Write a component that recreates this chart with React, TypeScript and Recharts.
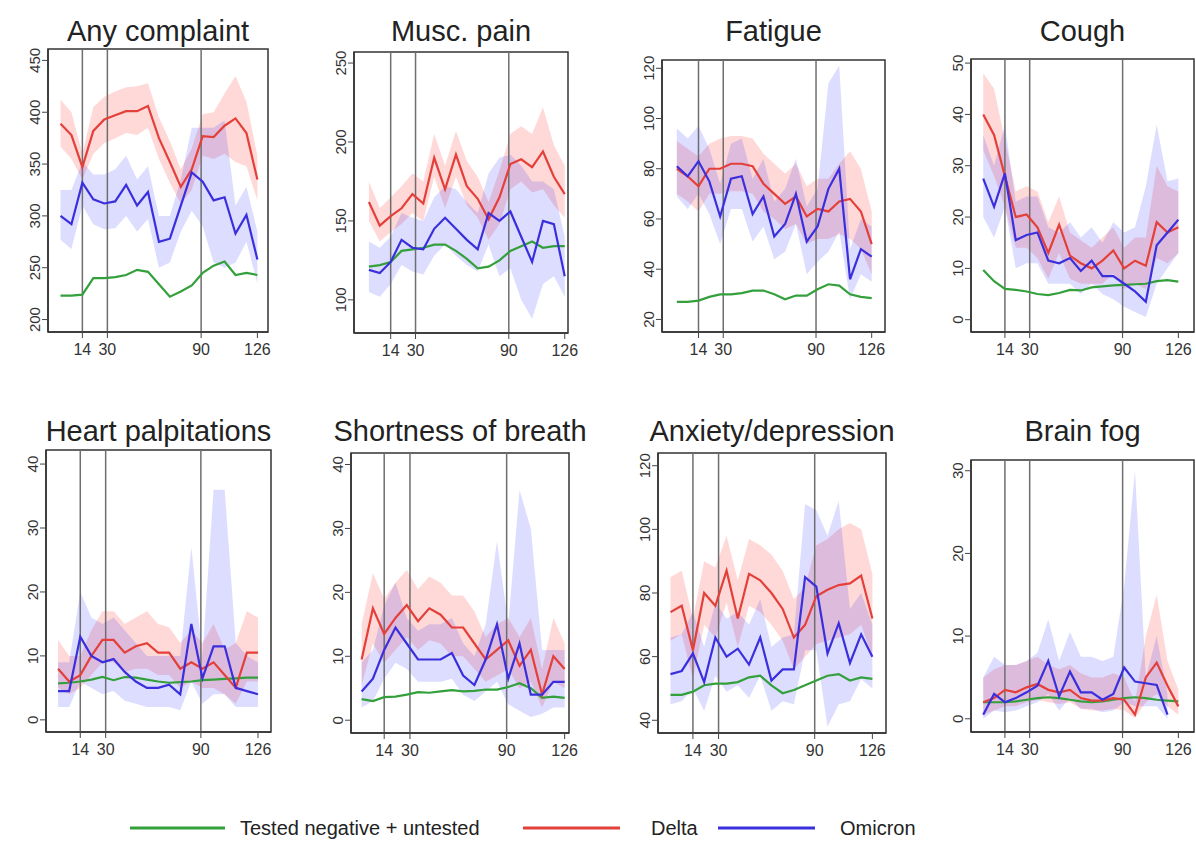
import React from 'react';
import {
  ComposedChart, Line, Area, XAxis, YAxis, ReferenceLine, ReferenceArea,
} from 'recharts';

// days since infection, one point per week
const days = [0, 7, 14, 21, 28, 35, 42, 49, 56, 63, 70, 77, 84, 91, 98, 105, 112, 119, 126];
const xTicks = [14, 30, 90, 126];
const markerDays = [14, 30, 90];

const titles = [
  'Any complaint', 'Musc. pain', 'Fatigue', 'Cough',
  'Heart palpitations', 'Shortness of breath', 'Anxiety/depression', 'Brain fog',
];
const legendLabels = ['Tested negative + untested', 'Delta', 'Omicron'];

const anyNeg = [223, 223, 224, 240, 240, 241, 243, 248, 246, 234, 222, 227, 233, 245, 252, 256, 243, 245, 243];
const anyDelta = [389, 378, 347, 382, 393, 397, 401, 401, 406, 375, 352, 328, 345, 377, 376, 387, 394, 380, 335];
const anyDeltaLo = [367, 355, 335, 360, 370, 375, 380, 378, 385, 355, 332, 312, 325, 358, 355, 360, 352, 348, 315];
const anyDeltaHi = [412, 400, 360, 405, 415, 420, 424, 425, 428, 395, 372, 345, 365, 398, 400, 418, 435, 410, 358];
const anyOmi = [300, 292, 332, 316, 312, 314, 330, 310, 323, 275, 278, 310, 342, 333, 315, 318, 283, 301, 258];
const anyOmiLo = [277, 268, 310, 292, 287, 288, 300, 285, 297, 250, 255, 285, 305, 290, 255, 250, 255, 275, 235];
const anyOmiHi = [325, 325, 352, 340, 340, 345, 358, 335, 348, 300, 300, 335, 385, 385, 385, 392, 310, 328, 285];

const muscNeg = [121, 122, 124, 131, 132, 133, 135, 135, 131, 126, 120, 121, 125, 131, 134, 137, 133, 134, 134];
const muscDelta = [162, 147, 153, 158, 167, 161, 190, 170, 192, 172, 164, 151, 165, 186, 189, 184, 194, 178, 167];
const muscDeltaLo = [150, 137, 143, 148, 155, 150, 178, 158, 178, 160, 152, 138, 148, 170, 175, 168, 170, 160, 152];
const muscDeltaHi = [175, 158, 165, 172, 180, 175, 205, 185, 207, 188, 178, 162, 182, 205, 210, 205, 222, 198, 185];
const muscOmi = [119, 117, 124, 138, 133, 132, 145, 152, 145, 138, 132, 155, 150, 156, 140, 124, 150, 148, 115];
const muscOmiLo = [105, 102, 110, 122, 118, 116, 128, 135, 128, 122, 118, 135, 115, 120, 100, 88, 110, 115, 102];
const muscOmiHi = [137, 133, 140, 155, 152, 150, 165, 172, 170, 162, 155, 180, 190, 192, 185, 175, 175, 170, 140];

const fatNeg = [27, 27, 27.5, 29, 30, 30, 30.5, 31.5, 31.5, 30, 28, 29.5, 29.5, 32, 34, 33.5, 30, 29, 28.5];
const fatDelta = [80, 77, 73, 80, 80, 82, 82, 81, 74, 70, 66, 69, 61, 64, 63, 67, 68, 63, 50];
const fatDeltaLo = [70, 67, 63, 70, 70, 71, 71, 70, 63, 60, 56, 58, 50, 52, 52, 54, 52, 48, 38];
const fatDeltaHi = [91, 88, 85, 90, 92, 93, 93, 92, 86, 82, 78, 82, 73, 76, 76, 82, 87, 80, 63];
const fatOmi = [81, 77, 83, 75, 61, 76, 77, 62, 69, 53, 58, 70, 51, 57, 72, 80, 36, 48, 45];
const fatOmiLo = [69, 64, 70, 62, 50, 64, 64, 51, 57, 44, 47, 58, 38, 43, 47, 55, 28, 38, 35];
const fatOmiHi = [96, 92, 97, 88, 74, 90, 92, 76, 84, 67, 72, 84, 65, 72, 114, 121, 48, 60, 57];

const coughNeg = [9.7, 7.5, 6, 5.8, 5.5, 5, 4.8, 5.2, 5.8, 5.7, 6.3, 6.5, 6.7, 6.8, 6.9, 7, 7.5, 7.7, 7.4];
const coughDelta = [40, 36, 28, 20, 20.5, 18, 13, 18.5, 12.5, 11, 10, 11.5, 13.5, 10, 11.5, 10.5, 19, 17, 18];
const coughDeltaLo = [33, 28, 22, 14, 14, 12, 8, 13, 8, 7, 7, 7, 9, 6, 7, 6, 12, 11, 13];
const coughDeltaHi = [48, 45, 35, 25, 26, 25, 19, 24, 17, 15.5, 14, 16, 18, 14, 16, 16, 30, 26, 25];
const coughOmi = [27.5, 22, 28.5, 15.5, 16.5, 17, 11.5, 11, 12, 9.5, 11.5, 8.5, 8.5, 7, 5.5, 3.5, 14.5, 17, 19.5];
const coughOmiLo = [20, 16, 22, 10, 11, 11, 7, 7, 7, 5, 7, 5, 4, 2.5, 1.5, 0.5, 7, 10, 13];
const coughOmiHi = [36, 30, 38, 23, 24, 24, 18, 17, 19, 16, 18, 15, 19, 17, 18, 26, 38, 27, 27.5];

const heartNeg = [5.7, 5.8, 6, 6.3, 6.7, 6.2, 6.7, 6.6, 6.3, 6, 5.8, 5.9, 6, 6.2, 6.3, 6.4, 6.5, 6.6, 6.6];
const heartDelta = [8, 6, 7, 10, 12.5, 12.5, 10.5, 11.5, 12, 10.5, 10.5, 8, 9, 8, 9, 7, 5, 10.5, 10.5];
const heartDeltaLo = [5, 4, 5, 7, 9, 9, 7.5, 8, 8, 7, 7, 5, 6, 5, 5, 4, 2.5, 6, 6];
const heartDeltaHi = [12.5, 10, 10, 14, 17, 17, 15, 16, 17, 15, 14.5, 12, 14, 12, 15, 11, 12, 17, 16];
const heartOmi = [4.5, 4.5, 13, 10, 9, 9.5, 7.5, 6, 5, 5, 5.5, 4, 15, 6.5, 11.5, 11.5, 5, 4.5, 4];
const heartOmiLo = [2, 2, 6, 5, 4, 4.5, 3, 2.5, 2, 2, 2, 1.5, 6, 2.5, 4, 4, 2, 2, 2];
const heartOmiHi = [9, 9, 20, 16, 15, 16, 14, 12, 10, 10, 10, 10, 27, 10, 36, 36, 12, 10, 9];

const breathNeg = [3.3, 3, 3.6, 3.7, 4, 4.4, 4.3, 4.5, 4.7, 4.5, 4.6, 4.8, 4.8, 5.2, 5.8, 5, 3.5, 3.7, 3.5];
const breathDelta = [9.5, 17.5, 13.5, 16, 18, 15.5, 17.5, 16.5, 14.5, 14.5, 12, 9.5, 11, 12.5, 8.5, 11, 4, 10, 8];
const breathDeltaLo = [5.5, 12, 9, 11, 13, 11, 12.5, 12, 10, 10, 8, 6, 7, 8, 5, 6, 2, 6, 5];
const breathDeltaHi = [15, 23, 19, 21.5, 23.5, 20.5, 22.5, 21.5, 19.5, 19.5, 17, 13, 15, 16, 13, 16, 8, 16, 12];
const breathOmi = [4.5, 6.5, 11, 14.5, 12, 9.5, 9.5, 9.5, 10.5, 7, 5.5, 9.5, 15, 6.5, 12, 4, 4, 6, 6];
const breathOmiLo = [2, 3, 6.5, 9, 8, 6, 6, 6, 6.5, 4, 3, 4.5, 6, 2.5, 1.5, 0.5, 1, 2, 2];
const breathOmiHi = [9, 11, 18, 21.5, 16, 14, 15, 15, 16, 12, 10, 15, 28, 15, 36, 30, 11, 11, 11];

const anxNeg = [48, 48, 49, 51, 51.5, 51.5, 52, 53.5, 54, 51, 48.5, 49.5, 51, 52.5, 54, 54.5, 52.5, 53.5, 53];
const anxDelta = [74, 76, 62, 80, 76, 87, 72, 86, 84, 80, 75, 66, 70, 79, 81, 82.5, 83, 85.5, 72];
const anxDeltaLo = [65, 67, 53, 70, 66, 77, 63, 76, 74, 70, 65, 56, 60, 64, 65, 66, 67, 70, 60];
const anxDeltaHi = [85, 87, 72, 90, 88, 98, 84, 97, 95, 92, 87, 78, 82, 95, 97, 100, 102, 100, 86];
const anxOmi = [54.5, 55.5, 61, 52, 66, 60, 62.5, 57.5, 66, 52.5, 56, 56, 85, 82, 61, 70.5, 58, 67, 60];
const anxOmiLo = [45, 46, 50, 43, 54, 49, 51, 47, 54, 43, 46, 45, 62, 62, 38, 45, 46, 53, 50];
const anxOmiHi = [66, 67, 74, 63, 77, 72, 74, 70, 78, 63, 66, 67, 108, 106, 98, 109, 75, 80, 70];

const fogNeg = [2, 2, 2, 2.1, 2.3, 2.5, 2.6, 2.5, 2.3, 2.1, 2, 2.1, 2.3, 2.5, 2.6, 2.5, 2.3, 2.2, 2.1];
const fogDelta = [2, 2.5, 3.5, 3.2, 3.8, 4.2, 3.5, 3.2, 3.5, 2.5, 2.2, 2.2, 2.5, 2.3, 0.5, 5, 6.8, 4, 1.5];
const fogDeltaLo = [0.5, 1, 1.5, 1.5, 2, 2.3, 2, 1.8, 2, 1.2, 1, 1, 1.2, 1, 0.1, 2, 3, 1.5, 0.5];
const fogDeltaHi = [5, 6, 6.5, 6.5, 7, 7.5, 6.5, 6, 6.5, 5.5, 5, 5, 5.5, 5, 2, 10, 15, 7, 3.5];
const fogOmi = [0.5, 3, 2, 2.5, 3.2, 4, 7, 2.7, 5.7, 3.2, 3.2, 2.3, 3, 6.2, 4.5, 4.3, 4.1, 0.5, null];
const fogOmiLo = [0, 1, 0.8, 1, 1.5, 2, 3, 1, 2.5, 1.2, 1.2, 0.8, 1, 2, 1.5, 1.5, 1.5, 0, null];
const fogOmiHi = [5, 7.5, 6.5, 6.5, 7, 8, 12, 7, 10.5, 7.5, 7.5, 7, 7.5, 16, 30, 5, 10, 3, null];

const yTicks = [
  [200, 250, 300, 350, 400, 450],
  [100, 150, 200, 250],
  [20, 40, 60, 80, 100, 120],
  [0, 10, 20, 30, 40, 50],
  [0, 10, 20, 30, 40],
  [0, 10, 20, 30, 40],
  [40, 60, 80, 100, 120],
  [0, 10, 20, 30],
];

const series = [
  [anyNeg, anyDelta, anyDeltaLo, anyDeltaHi, anyOmi, anyOmiLo, anyOmiHi],
  [muscNeg, muscDelta, muscDeltaLo, muscDeltaHi, muscOmi, muscOmiLo, muscOmiHi],
  [fatNeg, fatDelta, fatDeltaLo, fatDeltaHi, fatOmi, fatOmiLo, fatOmiHi],
  [coughNeg, coughDelta, coughDeltaLo, coughDeltaHi, coughOmi, coughOmiLo, coughOmiHi],
  [heartNeg, heartDelta, heartDeltaLo, heartDeltaHi, heartOmi, heartOmiLo, heartOmiHi],
  [breathNeg, breathDelta, breathDeltaLo, breathDeltaHi, breathOmi, breathOmiLo, breathOmiHi],
  [anxNeg, anxDelta, anxDeltaLo, anxDeltaHi, anxOmi, anxOmiLo, anxOmiHi],
  [fogNeg, fogDelta, fogDeltaLo, fogDeltaHi, fogOmi, fogOmiLo, fogOmiHi],
];

// layout: plot box [left, top, right, bottom] in page pixels, and axis ranges
const boxes = [
  [48, 49, 268, 332], [354, 52, 568, 333], [662, 60, 885, 332], [971, 59, 1194, 332],
  [46, 450, 271, 732], [351, 453, 569, 733], [658, 453, 886, 733], [971, 460, 1194, 732],
];
const xDomains = [
  [-8, 132.8], [-9.6, 128.1], [-9.6, 134.6], [-7.9, 136.1],
  [-7.6, 134.2], [-6.6, 128.7], [-7.8, 134.5], [-7.9, 136.1],
];
const yDomains = [
  [188, 461], [79, 257], [15, 123.3], [-2.4, 50.8],
  [-1.9, 42.2], [-2, 41.8], [36, 124], [-1.6, 31.3],
];

const GREEN = '#33a03c';
const RED = '#e4403a';
const BLUE = '#3a2fdc';
const FONT = '"Liberation Sans", Arial, sans-serif';

function YTick(props: any) {
  const { x, y, payload } = props;
  return (
    <g transform={`translate(${x},${y}) rotate(-90)`}>
      <text textAnchor="middle" fontSize={15} fill="#333" fontFamily={FONT}>{payload.value}</text>
    </g>
  );
}

function Panel({ idx }: { idx: number }) {
  const [L, T, R, B] = boxes[idx];
  const rowTop = idx < 4 ? 0 : 400;
  const padL = 50;
  const padR = 12;
  const height = 400;
  const xAxisH = 40;
  const [neg, delta, dLo, dHi, omi, oLo, oHi] = series[idx];
  const data = days.map((d, i) => ({
    day: d,
    neg: neg[i],
    delta: delta[i],
    deltaBand: [dLo[i], dHi[i]],
    omi: omi[i],
    omiBand: oLo[i] == null ? null : [oLo[i], oHi[i]],
  }));
  const xd = xDomains[idx];
  const yd = yDomains[idx];
  return (
    <div style={{ position: 'absolute', left: L - padL, top: rowTop }}>
      <ComposedChart
        width={R - L + padL + padR}
        height={height}
        data={data}
        margin={{ top: T - rowTop, left: padL - 30, right: padR, bottom: height - (B - rowTop) - xAxisH }}
      >
        <XAxis
          dataKey="day"
          type="number"
          domain={xd}
          allowDataOverflow
          ticks={xTicks}
          interval={0}
          height={xAxisH}
          tickSize={6}
          tickMargin={6}
          tick={{ fontSize: 16, fill: '#333', fontFamily: FONT }}
          tickLine={{ stroke: '#444' }}
          axisLine={{ stroke: '#333', strokeWidth: 1.5 }}
        />
        <YAxis
          type="number"
          domain={yd}
          allowDataOverflow
          ticks={yTicks[idx]}
          interval={0}
          width={30}
          tickSize={6}
          tickMargin={2}
          tick={<YTick />}
          tickLine={{ stroke: '#444' }}
          axisLine={{ stroke: '#333', strokeWidth: 1.5 }}
        />
        <Area
          dataKey="deltaBand"
          type="linear"
          stroke="none"
          fill="#ff1a1a"
          fillOpacity={0.17}
          isAnimationActive={false}
          connectNulls={false}
        />
        <Area
          dataKey="omiBand"
          type="linear"
          stroke="none"
          fill="#1a1aff"
          fillOpacity={0.15}
          isAnimationActive={false}
          connectNulls={false}
        />
        {markerDays.map(d => (
          <ReferenceLine key={d} x={d} stroke="#6e6e6e" strokeWidth={1.5} />
        ))}
        <ReferenceArea
          x1={xd[0]} x2={xd[1]} y1={yd[0]} y2={yd[1]}
          fill="none" stroke="#333" strokeWidth={1.5} ifOverflow="visible"
        />
        <Line dataKey="neg" type="linear" stroke={GREEN} strokeWidth={2.2} dot={false} isAnimationActive={false} />
        <Line dataKey="delta" type="linear" stroke={RED} strokeWidth={2.2} dot={false} isAnimationActive={false} />
        <Line dataKey="omi" type="linear" stroke={BLUE} strokeWidth={2.2} dot={false} isAnimationActive={false} connectNulls={false} />
      </ComposedChart>
    </div>
  );
}

export default function App() {
  const legendItems = [
    { label: legendLabels[0], color: GREEN, x1: 130, x2: 225, tx: 240 },
    { label: legendLabels[1], color: RED, x1: 523, x2: 620, tx: 651 },
    { label: legendLabels[2], color: BLUE, x1: 718, x2: 815, tx: 840 },
  ];
  return (
    <div style={{ position: 'absolute', left: 0, top: 0, width: 1196, height: 847, background: '#fff', overflow: 'hidden' }}>
      {titles.map((_, i) => <Panel key={i} idx={i} />)}
      <svg width={1196} height={847} style={{ position: 'absolute', left: 0, top: 0, pointerEvents: 'none' }}>
        {titles.map((t, i) => {
          const [L, , R] = boxes[i];
          const base = i < 4 ? 41 : 441;
          return (
            <text key={t} x={(L + R) / 2} y={base} textAnchor="middle" fontSize={29} fill="#222" fontFamily={FONT}>
              {t}
            </text>
          );
        })}
        {legendItems.map(it => (
          <g key={it.label}>
            <line x1={it.x1} x2={it.x2} y1={828} y2={828} stroke={it.color} strokeWidth={3} />
            <text x={it.tx} y={835} fontSize={20} fill="#222" fontFamily={FONT}>{it.label}</text>
          </g>
        ))}
      </svg>
    </div>
  );
}
